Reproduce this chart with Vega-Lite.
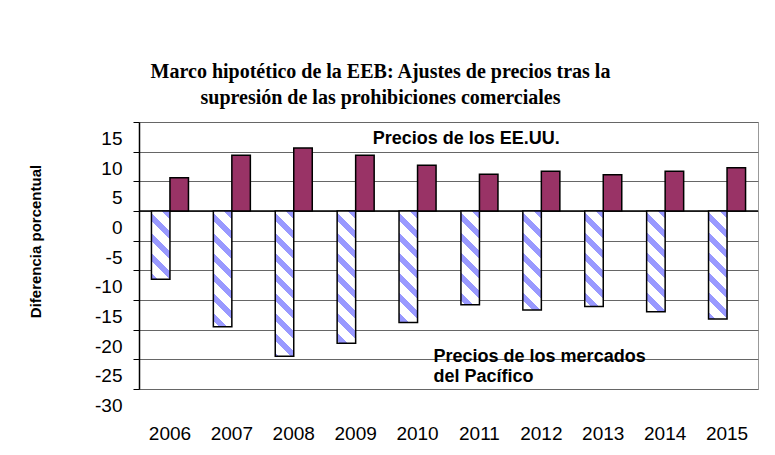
{
  "$schema": "https://vega.github.io/schema/vega-lite/v6.json",
  "width": 619,
  "height": 267,
  "autosize": {"type": "none"},
  "padding": {"left": 139, "top": 122, "right": 17, "bottom": 66},
  "background": "white",
  "config": {
    "view": {"stroke": "#999999", "strokeWidth": 1},
    "font": "Liberation Sans"
  },
  "title": {
    "text": ["Marco hipotético de la EEB: Ajustes de precios tras la", "supresión de las prohibiciones comerciales"],
    "font": "Liberation Serif",
    "fontSize": 20,
    "fontWeight": "bold",
    "color": "black",
    "lineHeight": 26.7,
    "anchor": "middle",
    "dx": -68,
    "offset": 13
  },
  "encoding": {
    "x": {
      "field": "year",
      "type": "nominal",
      "scale": {"domain": ["2006","2007","2008","2009","2010","2011","2012","2013","2014","2015"], "paddingInner": 0.402, "paddingOuter": 0.201},
      "axis": {
        "title": null,
        "domain": false,
        "ticks": false,
        "tickSize": 0,
        "labelAngle": 0,
        "labelFontSize": 19,
        "labelColor": "black",
        "labelBaseline": "alphabetic",
        "labelPadding": 50,
        "labelFont": "Liberation Sans"
      }
    },
    "y": {
      "field": "value",
      "type": "quantitative",
      "scale": {"domain": [-30, 15], "nice": false, "zero": false},
      "axis": {
        "title": "Diferencia porcentual",
        "titleFont": "Liberation Sans",
        "titleFontSize": 15,
        "titleFontWeight": "bold",
        "titleColor": "black",
        "titleX": -104,
        "titleY": 119,
        "titleAngle": -90,
        "titleAlign": "center",
        "titleBaseline": "middle",
        "values": [-30, -25, -20, -15, -10, -5, 0, 5, 10, 15],
        "tickCount": 10,
        "labelExpr": "replace(format(datum.value, 'd'), '−', '-')",
        "labelFontSize": 19,
        "labelColor": "black",
        "labelFont": "Liberation Sans",
        "labelOffset": 16.5,
        "labelPadding": 11,
        "labelOverlap": false,
        "labelFlush": false,
        "domainColor": "black",
        "domainWidth": 1.5,
        "tickColor": "black",
        "tickSize": 6,
        "tickWidth": 1,
        "grid": true,
        "gridColor": "#666666",
        "gridWidth": 1,
        "gridOpacity": 1
      }
    }
  },
  "layer": [
    {
      "data": {"values": [{"value": 0}]},
      "mark": {"type": "rule", "color": "black", "strokeWidth": 1.5},
      "encoding": {"x": null}
    },
    {
      "data": {
        "values": [
          {"year": "2006", "series": "Pacífico", "value": -11.5},
          {"year": "2006", "series": "EE.UU.", "value": 5.6},
          {"year": "2007", "series": "Pacífico", "value": -19.5},
          {"year": "2007", "series": "EE.UU.", "value": 9.4},
          {"year": "2008", "series": "Pacífico", "value": -24.5},
          {"year": "2008", "series": "EE.UU.", "value": 10.6},
          {"year": "2009", "series": "Pacífico", "value": -22.3},
          {"year": "2009", "series": "EE.UU.", "value": 9.4},
          {"year": "2010", "series": "Pacífico", "value": -18.8},
          {"year": "2010", "series": "EE.UU.", "value": 7.7},
          {"year": "2011", "series": "Pacífico", "value": -15.8},
          {"year": "2011", "series": "EE.UU.", "value": 6.2},
          {"year": "2012", "series": "Pacífico", "value": -16.7},
          {"year": "2012", "series": "EE.UU.", "value": 6.7},
          {"year": "2013", "series": "Pacífico", "value": -16.1},
          {"year": "2013", "series": "EE.UU.", "value": 6.1},
          {"year": "2014", "series": "Pacífico", "value": -17.0},
          {"year": "2014", "series": "EE.UU.", "value": 6.7},
          {"year": "2015", "series": "Pacífico", "value": -18.2},
          {"year": "2015", "series": "EE.UU.", "value": 7.3}
        ]
      },
      "mark": {"type": "bar", "stroke": "black", "strokeWidth": 1.5},
      "encoding": {
        "xOffset": {
          "field": "series",
          "type": "nominal",
          "sort": ["Pacífico", "EE.UU."],
          "scale": {"paddingInner": 0, "paddingOuter": 0}
        },
        "fill": {
          "condition": [
            {"test": "datum.series === 'EE.UU.'", "value": "#993366"},
            {"test": "datum.year === '2006'", "value": {"gradient": "linear", "x1": 1, "y1": 0, "x2": 0.3702, "y2": 2.3218, "stops": [{"offset":0,"color":"#9999ff"},{"offset":0.0471,"color":"#9999ff"},{"offset":0.0471,"color":"#ffffff"},{"offset":0.1176,"color":"#ffffff"},{"offset":0.1176,"color":"#9999ff"},{"offset":0.1647,"color":"#9999ff"},{"offset":0.1647,"color":"#ffffff"},{"offset":0.2353,"color":"#ffffff"},{"offset":0.2353,"color":"#9999ff"},{"offset":0.2824,"color":"#9999ff"},{"offset":0.2824,"color":"#ffffff"},{"offset":0.3529,"color":"#ffffff"},{"offset":0.3529,"color":"#9999ff"},{"offset":0.4,"color":"#9999ff"},{"offset":0.4,"color":"#ffffff"},{"offset":0.4706,"color":"#ffffff"},{"offset":0.4706,"color":"#9999ff"},{"offset":0.5176,"color":"#9999ff"},{"offset":0.5176,"color":"#ffffff"},{"offset":0.5882,"color":"#ffffff"},{"offset":0.5882,"color":"#9999ff"},{"offset":0.6353,"color":"#9999ff"},{"offset":0.6353,"color":"#ffffff"},{"offset":0.7059,"color":"#ffffff"},{"offset":0.7059,"color":"#9999ff"},{"offset":0.7529,"color":"#9999ff"},{"offset":0.7529,"color":"#ffffff"},{"offset":0.8235,"color":"#ffffff"},{"offset":0.8235,"color":"#9999ff"},{"offset":0.8706,"color":"#9999ff"},{"offset":0.8706,"color":"#ffffff"},{"offset":0.9412,"color":"#ffffff"},{"offset":0.9412,"color":"#9999ff"},{"offset":0.9882,"color":"#9999ff"},{"offset":0.9882,"color":"#ffffff"},{"offset":1,"color":"#ffffff"}]}},
            {"test": "datum.year === '2007'", "value": {"gradient": "linear", "x1": 1, "y1": 0, "x2": 0.7709, "y2": 1.4327, "stops": [{"offset":0,"color":"#9999ff"},{"offset":0.0471,"color":"#9999ff"},{"offset":0.0471,"color":"#ffffff"},{"offset":0.1176,"color":"#ffffff"},{"offset":0.1176,"color":"#9999ff"},{"offset":0.1647,"color":"#9999ff"},{"offset":0.1647,"color":"#ffffff"},{"offset":0.2353,"color":"#ffffff"},{"offset":0.2353,"color":"#9999ff"},{"offset":0.2824,"color":"#9999ff"},{"offset":0.2824,"color":"#ffffff"},{"offset":0.3529,"color":"#ffffff"},{"offset":0.3529,"color":"#9999ff"},{"offset":0.4,"color":"#9999ff"},{"offset":0.4,"color":"#ffffff"},{"offset":0.4706,"color":"#ffffff"},{"offset":0.4706,"color":"#9999ff"},{"offset":0.5176,"color":"#9999ff"},{"offset":0.5176,"color":"#ffffff"},{"offset":0.5882,"color":"#ffffff"},{"offset":0.5882,"color":"#9999ff"},{"offset":0.6353,"color":"#9999ff"},{"offset":0.6353,"color":"#ffffff"},{"offset":0.7059,"color":"#ffffff"},{"offset":0.7059,"color":"#9999ff"},{"offset":0.7529,"color":"#9999ff"},{"offset":0.7529,"color":"#ffffff"},{"offset":0.8235,"color":"#ffffff"},{"offset":0.8235,"color":"#9999ff"},{"offset":0.8706,"color":"#9999ff"},{"offset":0.8706,"color":"#ffffff"},{"offset":0.9412,"color":"#ffffff"},{"offset":0.9412,"color":"#9999ff"},{"offset":0.9882,"color":"#9999ff"},{"offset":0.9882,"color":"#ffffff"},{"offset":1,"color":"#ffffff"}]}},
            {"test": "datum.year === '2008'", "value": {"gradient": "linear", "x1": 1, "y1": 0, "x2": 0.8536, "y2": 1.1506, "stops": [{"offset":0,"color":"#9999ff"},{"offset":0.0471,"color":"#9999ff"},{"offset":0.0471,"color":"#ffffff"},{"offset":0.1176,"color":"#ffffff"},{"offset":0.1176,"color":"#9999ff"},{"offset":0.1647,"color":"#9999ff"},{"offset":0.1647,"color":"#ffffff"},{"offset":0.2353,"color":"#ffffff"},{"offset":0.2353,"color":"#9999ff"},{"offset":0.2824,"color":"#9999ff"},{"offset":0.2824,"color":"#ffffff"},{"offset":0.3529,"color":"#ffffff"},{"offset":0.3529,"color":"#9999ff"},{"offset":0.4,"color":"#9999ff"},{"offset":0.4,"color":"#ffffff"},{"offset":0.4706,"color":"#ffffff"},{"offset":0.4706,"color":"#9999ff"},{"offset":0.5176,"color":"#9999ff"},{"offset":0.5176,"color":"#ffffff"},{"offset":0.5882,"color":"#ffffff"},{"offset":0.5882,"color":"#9999ff"},{"offset":0.6353,"color":"#9999ff"},{"offset":0.6353,"color":"#ffffff"},{"offset":0.7059,"color":"#ffffff"},{"offset":0.7059,"color":"#9999ff"},{"offset":0.7529,"color":"#9999ff"},{"offset":0.7529,"color":"#ffffff"},{"offset":0.8235,"color":"#ffffff"},{"offset":0.8235,"color":"#9999ff"},{"offset":0.8706,"color":"#9999ff"},{"offset":0.8706,"color":"#ffffff"},{"offset":0.9412,"color":"#ffffff"},{"offset":0.9412,"color":"#9999ff"},{"offset":0.9882,"color":"#9999ff"},{"offset":0.9882,"color":"#ffffff"},{"offset":1,"color":"#ffffff"}]}},
            {"test": "datum.year === '2009'", "value": {"gradient": "linear", "x1": 1, "y1": 0, "x2": 0.8238, "y2": 1.2603, "stops": [{"offset":0,"color":"#9999ff"},{"offset":0.0471,"color":"#9999ff"},{"offset":0.0471,"color":"#ffffff"},{"offset":0.1176,"color":"#ffffff"},{"offset":0.1176,"color":"#9999ff"},{"offset":0.1647,"color":"#9999ff"},{"offset":0.1647,"color":"#ffffff"},{"offset":0.2353,"color":"#ffffff"},{"offset":0.2353,"color":"#9999ff"},{"offset":0.2824,"color":"#9999ff"},{"offset":0.2824,"color":"#ffffff"},{"offset":0.3529,"color":"#ffffff"},{"offset":0.3529,"color":"#9999ff"},{"offset":0.4,"color":"#9999ff"},{"offset":0.4,"color":"#ffffff"},{"offset":0.4706,"color":"#ffffff"},{"offset":0.4706,"color":"#9999ff"},{"offset":0.5176,"color":"#9999ff"},{"offset":0.5176,"color":"#ffffff"},{"offset":0.5882,"color":"#ffffff"},{"offset":0.5882,"color":"#9999ff"},{"offset":0.6353,"color":"#9999ff"},{"offset":0.6353,"color":"#ffffff"},{"offset":0.7059,"color":"#ffffff"},{"offset":0.7059,"color":"#9999ff"},{"offset":0.7529,"color":"#9999ff"},{"offset":0.7529,"color":"#ffffff"},{"offset":0.8235,"color":"#ffffff"},{"offset":0.8235,"color":"#9999ff"},{"offset":0.8706,"color":"#9999ff"},{"offset":0.8706,"color":"#ffffff"},{"offset":0.9412,"color":"#ffffff"},{"offset":0.9412,"color":"#9999ff"},{"offset":0.9882,"color":"#9999ff"},{"offset":0.9882,"color":"#ffffff"},{"offset":1,"color":"#ffffff"}]}},
            {"test": "datum.year === '2010'", "value": {"gradient": "linear", "x1": 1, "y1": 0, "x2": 0.7538, "y2": 1.4838, "stops": [{"offset":0,"color":"#9999ff"},{"offset":0.0471,"color":"#9999ff"},{"offset":0.0471,"color":"#ffffff"},{"offset":0.1176,"color":"#ffffff"},{"offset":0.1176,"color":"#9999ff"},{"offset":0.1647,"color":"#9999ff"},{"offset":0.1647,"color":"#ffffff"},{"offset":0.2353,"color":"#ffffff"},{"offset":0.2353,"color":"#9999ff"},{"offset":0.2824,"color":"#9999ff"},{"offset":0.2824,"color":"#ffffff"},{"offset":0.3529,"color":"#ffffff"},{"offset":0.3529,"color":"#9999ff"},{"offset":0.4,"color":"#9999ff"},{"offset":0.4,"color":"#ffffff"},{"offset":0.4706,"color":"#ffffff"},{"offset":0.4706,"color":"#9999ff"},{"offset":0.5176,"color":"#9999ff"},{"offset":0.5176,"color":"#ffffff"},{"offset":0.5882,"color":"#ffffff"},{"offset":0.5882,"color":"#9999ff"},{"offset":0.6353,"color":"#9999ff"},{"offset":0.6353,"color":"#ffffff"},{"offset":0.7059,"color":"#ffffff"},{"offset":0.7059,"color":"#9999ff"},{"offset":0.7529,"color":"#9999ff"},{"offset":0.7529,"color":"#ffffff"},{"offset":0.8235,"color":"#ffffff"},{"offset":0.8235,"color":"#9999ff"},{"offset":0.8706,"color":"#9999ff"},{"offset":0.8706,"color":"#ffffff"},{"offset":0.9412,"color":"#ffffff"},{"offset":0.9412,"color":"#9999ff"},{"offset":0.9882,"color":"#9999ff"},{"offset":0.9882,"color":"#ffffff"},{"offset":1,"color":"#ffffff"}]}},
            {"test": "datum.year === '2011'", "value": {"gradient": "linear", "x1": 1, "y1": 0, "x2": 0.6552, "y2": 1.7463, "stops": [{"offset":0,"color":"#9999ff"},{"offset":0.0471,"color":"#9999ff"},{"offset":0.0471,"color":"#ffffff"},{"offset":0.1176,"color":"#ffffff"},{"offset":0.1176,"color":"#9999ff"},{"offset":0.1647,"color":"#9999ff"},{"offset":0.1647,"color":"#ffffff"},{"offset":0.2353,"color":"#ffffff"},{"offset":0.2353,"color":"#9999ff"},{"offset":0.2824,"color":"#9999ff"},{"offset":0.2824,"color":"#ffffff"},{"offset":0.3529,"color":"#ffffff"},{"offset":0.3529,"color":"#9999ff"},{"offset":0.4,"color":"#9999ff"},{"offset":0.4,"color":"#ffffff"},{"offset":0.4706,"color":"#ffffff"},{"offset":0.4706,"color":"#9999ff"},{"offset":0.5176,"color":"#9999ff"},{"offset":0.5176,"color":"#ffffff"},{"offset":0.5882,"color":"#ffffff"},{"offset":0.5882,"color":"#9999ff"},{"offset":0.6353,"color":"#9999ff"},{"offset":0.6353,"color":"#ffffff"},{"offset":0.7059,"color":"#ffffff"},{"offset":0.7059,"color":"#9999ff"},{"offset":0.7529,"color":"#9999ff"},{"offset":0.7529,"color":"#ffffff"},{"offset":0.8235,"color":"#ffffff"},{"offset":0.8235,"color":"#9999ff"},{"offset":0.8706,"color":"#9999ff"},{"offset":0.8706,"color":"#ffffff"},{"offset":0.9412,"color":"#ffffff"},{"offset":0.9412,"color":"#9999ff"},{"offset":0.9882,"color":"#9999ff"},{"offset":0.9882,"color":"#ffffff"},{"offset":1,"color":"#ffffff"}]}},
            {"test": "datum.year === '2012'", "value": {"gradient": "linear", "x1": 1, "y1": 0, "x2": 0.6906, "y2": 1.6576, "stops": [{"offset":0,"color":"#9999ff"},{"offset":0.0471,"color":"#9999ff"},{"offset":0.0471,"color":"#ffffff"},{"offset":0.1176,"color":"#ffffff"},{"offset":0.1176,"color":"#9999ff"},{"offset":0.1647,"color":"#9999ff"},{"offset":0.1647,"color":"#ffffff"},{"offset":0.2353,"color":"#ffffff"},{"offset":0.2353,"color":"#9999ff"},{"offset":0.2824,"color":"#9999ff"},{"offset":0.2824,"color":"#ffffff"},{"offset":0.3529,"color":"#ffffff"},{"offset":0.3529,"color":"#9999ff"},{"offset":0.4,"color":"#9999ff"},{"offset":0.4,"color":"#ffffff"},{"offset":0.4706,"color":"#ffffff"},{"offset":0.4706,"color":"#9999ff"},{"offset":0.5176,"color":"#9999ff"},{"offset":0.5176,"color":"#ffffff"},{"offset":0.5882,"color":"#ffffff"},{"offset":0.5882,"color":"#9999ff"},{"offset":0.6353,"color":"#9999ff"},{"offset":0.6353,"color":"#ffffff"},{"offset":0.7059,"color":"#ffffff"},{"offset":0.7059,"color":"#9999ff"},{"offset":0.7529,"color":"#9999ff"},{"offset":0.7529,"color":"#ffffff"},{"offset":0.8235,"color":"#ffffff"},{"offset":0.8235,"color":"#9999ff"},{"offset":0.8706,"color":"#9999ff"},{"offset":0.8706,"color":"#ffffff"},{"offset":0.9412,"color":"#ffffff"},{"offset":0.9412,"color":"#9999ff"},{"offset":0.9882,"color":"#9999ff"},{"offset":0.9882,"color":"#ffffff"},{"offset":1,"color":"#ffffff"}]}},
            {"test": "datum.year === '2013'", "value": {"gradient": "linear", "x1": 1, "y1": 0, "x2": 0.6676, "y2": 1.7157, "stops": [{"offset":0,"color":"#9999ff"},{"offset":0.0471,"color":"#9999ff"},{"offset":0.0471,"color":"#ffffff"},{"offset":0.1176,"color":"#ffffff"},{"offset":0.1176,"color":"#9999ff"},{"offset":0.1647,"color":"#9999ff"},{"offset":0.1647,"color":"#ffffff"},{"offset":0.2353,"color":"#ffffff"},{"offset":0.2353,"color":"#9999ff"},{"offset":0.2824,"color":"#9999ff"},{"offset":0.2824,"color":"#ffffff"},{"offset":0.3529,"color":"#ffffff"},{"offset":0.3529,"color":"#9999ff"},{"offset":0.4,"color":"#9999ff"},{"offset":0.4,"color":"#ffffff"},{"offset":0.4706,"color":"#ffffff"},{"offset":0.4706,"color":"#9999ff"},{"offset":0.5176,"color":"#9999ff"},{"offset":0.5176,"color":"#ffffff"},{"offset":0.5882,"color":"#ffffff"},{"offset":0.5882,"color":"#9999ff"},{"offset":0.6353,"color":"#9999ff"},{"offset":0.6353,"color":"#ffffff"},{"offset":0.7059,"color":"#ffffff"},{"offset":0.7059,"color":"#9999ff"},{"offset":0.7529,"color":"#9999ff"},{"offset":0.7529,"color":"#ffffff"},{"offset":0.8235,"color":"#ffffff"},{"offset":0.8235,"color":"#9999ff"},{"offset":0.8706,"color":"#9999ff"},{"offset":0.8706,"color":"#ffffff"},{"offset":0.9412,"color":"#ffffff"},{"offset":0.9412,"color":"#9999ff"},{"offset":0.9882,"color":"#9999ff"},{"offset":0.9882,"color":"#ffffff"},{"offset":1,"color":"#ffffff"}]}},
            {"test": "datum.year === '2014'", "value": {"gradient": "linear", "x1": 1, "y1": 0, "x2": 0.7011, "y2": 1.63, "stops": [{"offset":0,"color":"#9999ff"},{"offset":0.0471,"color":"#9999ff"},{"offset":0.0471,"color":"#ffffff"},{"offset":0.1176,"color":"#ffffff"},{"offset":0.1176,"color":"#9999ff"},{"offset":0.1647,"color":"#9999ff"},{"offset":0.1647,"color":"#ffffff"},{"offset":0.2353,"color":"#ffffff"},{"offset":0.2353,"color":"#9999ff"},{"offset":0.2824,"color":"#9999ff"},{"offset":0.2824,"color":"#ffffff"},{"offset":0.3529,"color":"#ffffff"},{"offset":0.3529,"color":"#9999ff"},{"offset":0.4,"color":"#9999ff"},{"offset":0.4,"color":"#ffffff"},{"offset":0.4706,"color":"#ffffff"},{"offset":0.4706,"color":"#9999ff"},{"offset":0.5176,"color":"#9999ff"},{"offset":0.5176,"color":"#ffffff"},{"offset":0.5882,"color":"#ffffff"},{"offset":0.5882,"color":"#9999ff"},{"offset":0.6353,"color":"#9999ff"},{"offset":0.6353,"color":"#ffffff"},{"offset":0.7059,"color":"#ffffff"},{"offset":0.7059,"color":"#9999ff"},{"offset":0.7529,"color":"#9999ff"},{"offset":0.7529,"color":"#ffffff"},{"offset":0.8235,"color":"#ffffff"},{"offset":0.8235,"color":"#9999ff"},{"offset":0.8706,"color":"#9999ff"},{"offset":0.8706,"color":"#ffffff"},{"offset":0.9412,"color":"#ffffff"},{"offset":0.9412,"color":"#9999ff"},{"offset":0.9882,"color":"#9999ff"},{"offset":0.9882,"color":"#ffffff"},{"offset":1,"color":"#ffffff"}]}},
            {"test": "datum.year === '2015'", "value": {"gradient": "linear", "x1": 1, "y1": 0, "x2": 0.7381, "y2": 1.5292, "stops": [{"offset":0,"color":"#9999ff"},{"offset":0.0471,"color":"#9999ff"},{"offset":0.0471,"color":"#ffffff"},{"offset":0.1176,"color":"#ffffff"},{"offset":0.1176,"color":"#9999ff"},{"offset":0.1647,"color":"#9999ff"},{"offset":0.1647,"color":"#ffffff"},{"offset":0.2353,"color":"#ffffff"},{"offset":0.2353,"color":"#9999ff"},{"offset":0.2824,"color":"#9999ff"},{"offset":0.2824,"color":"#ffffff"},{"offset":0.3529,"color":"#ffffff"},{"offset":0.3529,"color":"#9999ff"},{"offset":0.4,"color":"#9999ff"},{"offset":0.4,"color":"#ffffff"},{"offset":0.4706,"color":"#ffffff"},{"offset":0.4706,"color":"#9999ff"},{"offset":0.5176,"color":"#9999ff"},{"offset":0.5176,"color":"#ffffff"},{"offset":0.5882,"color":"#ffffff"},{"offset":0.5882,"color":"#9999ff"},{"offset":0.6353,"color":"#9999ff"},{"offset":0.6353,"color":"#ffffff"},{"offset":0.7059,"color":"#ffffff"},{"offset":0.7059,"color":"#9999ff"},{"offset":0.7529,"color":"#9999ff"},{"offset":0.7529,"color":"#ffffff"},{"offset":0.8235,"color":"#ffffff"},{"offset":0.8235,"color":"#9999ff"},{"offset":0.8706,"color":"#9999ff"},{"offset":0.8706,"color":"#ffffff"},{"offset":0.9412,"color":"#ffffff"},{"offset":0.9412,"color":"#9999ff"},{"offset":0.9882,"color":"#9999ff"},{"offset":0.9882,"color":"#ffffff"},{"offset":1,"color":"#ffffff"}]}}
          ],
          "value": "#9999ff"
        }
      }
    },
    {
      "data": {"values": [{"year": "2009", "value": 11.3, "label": "Precios de los EE.UU."}]},
      "mark": {"type": "text", "align": "left", "baseline": "alphabetic", "dx": 17, "fontSize": 18, "fontWeight": "bold", "font": "Liberation Sans", "color": "black"},
      "encoding": {
        "text": {"field": "label", "type": "nominal"}
      }
    },
    {
      "data": {"values": [{"year": "2010", "value": -25.47, "label": "Precios de los mercados\ndel Pacífico"}]},
      "mark": {"type": "text", "align": "left", "baseline": "alphabetic", "dx": 16, "fontSize": 18, "fontWeight": "bold", "font": "Liberation Sans", "color": "black", "lineBreak": "\n", "lineHeight": 20},
      "encoding": {
        "text": {"field": "label", "type": "nominal"}
      }
    }
  ]
}
